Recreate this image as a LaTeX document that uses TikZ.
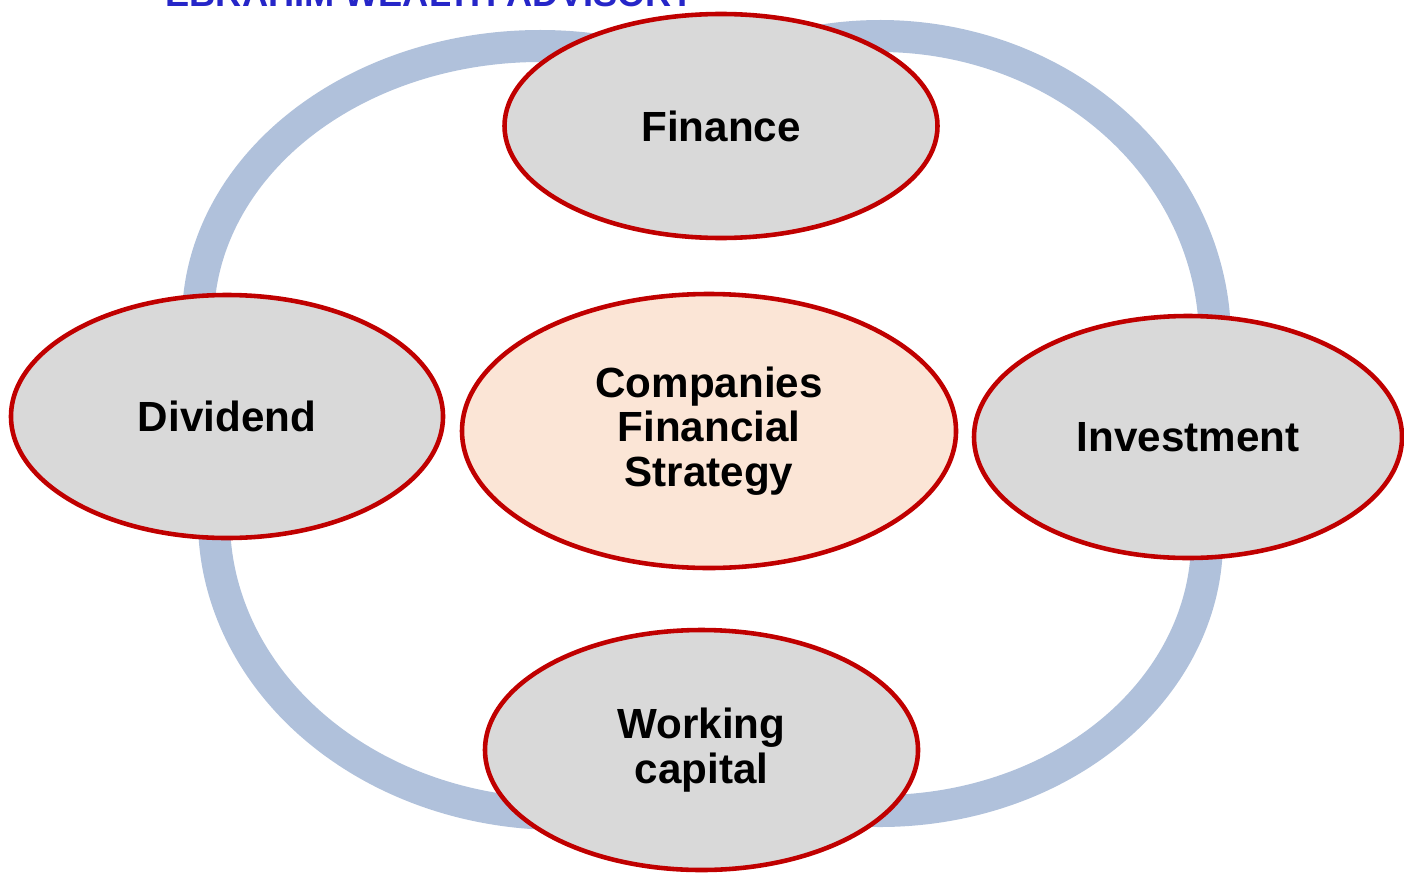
\documentclass[tikz,border=0pt]{standalone}
\usepackage{fontspec}
\setmainfont{Liberation Sans}
\usetikzlibrary{shapes.geometric}

\definecolor{ringblue}{HTML}{B0C1DB}
\definecolor{edgered}{HTML}{C00000}
\definecolor{topicgray}{HTML}{D9D9D9}
\definecolor{hubpeach}{HTML}{FBE5D6}
\definecolor{brandblue}{HTML}{2626C8}

\begin{document}
\begin{tikzpicture}
  \tikzset{ring/.style  = {draw=ringblue, line width=3.2mm},
           topic/.style = {ellipse, draw=edgered, line width=1.3pt,
                           fill=topicgray, inner sep=0pt, align=center,
                           font=\bfseries\fontsize{12}{12.6}\selectfont},
           hub/.style   = {topic, fill=hubpeach}}
  \useasboundingbox (0,0) rectangle (14.04,8.74);
  \clip (0,0) rectangle (14.04,8.74);
  % title, cut off at the top edge
  \node[anchor=base west, inner sep=0pt, text=brandblue,
        font=\bfseries\fontsize{10.3}{12}\selectfont] (brand) at (1.65,8.675)
        {EBRAHIM WEALTH ADVISORY};
  % ring behind the topics
  \draw[ring] ([shift={(185:3.42 and 2.74)}]5.40,5.54)
     arc[start angle=185, end angle=75,  x radius=3.42, y radius=2.74];
  \draw[ring] ([shift={(105:3.35 and 3.04)}]8.80,5.34)
     arc[start angle=105, end angle=-5,  x radius=3.35, y radius=3.04];
  \draw[ring] ([shift={(5:3.27 and 2.71)}]8.80,3.34)
     arc[start angle=5,   end angle=-95, x radius=3.27, y radius=2.71];
  \draw[ring] ([shift={(175:3.46 and 2.94)}]5.60,3.54)
     arc[start angle=175, end angle=272, x radius=3.46, y radius=2.94];
  % topics
  \node[topic, minimum width=4.33cm, minimum height=2.24cm] (finance)    at (7.21,7.48)  {Finance};
  \node[topic, minimum width=4.32cm, minimum height=2.43cm] (dividend)   at (2.27,4.575) {Dividend};
  \node[hub,   minimum width=4.94cm, minimum height=2.74cm] (strategy)   at (7.09,4.43)  {Companies\\Financial\\Strategy};
  \node[topic, minimum width=4.28cm, minimum height=2.42cm] (investment) at (11.88,4.37) {Investment};
  \node[topic, minimum width=4.33cm, minimum height=2.40cm] (working)    at (7.015,1.24) {Working\\capital};
\end{tikzpicture}
\end{document}
